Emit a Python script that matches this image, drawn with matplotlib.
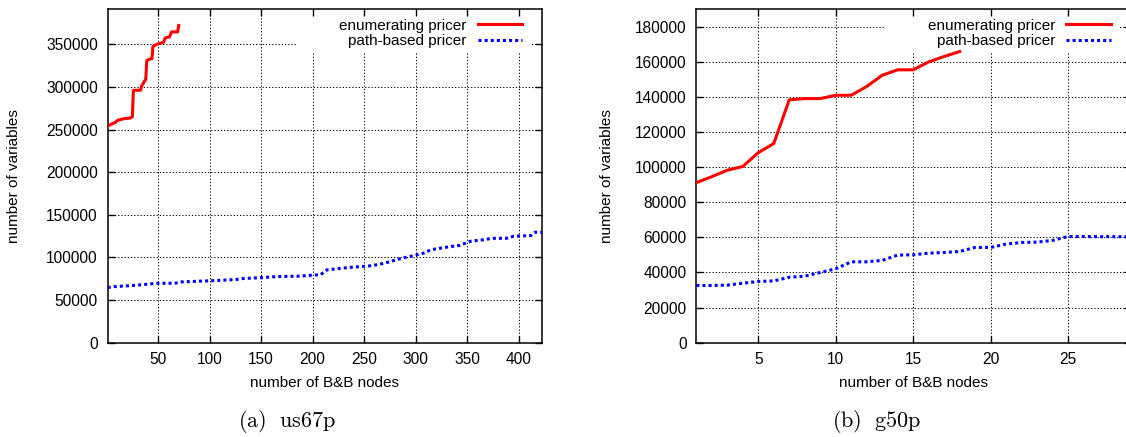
import matplotlib
matplotlib.use("Agg")
import matplotlib.pyplot as plt
from matplotlib.patches import Rectangle
from matplotlib.ticker import MultipleLocator, FormatStrFormatter

plt.rcParams['font.family'] = ['Liberation Sans', 'DejaVu Sans']
plt.rcParams['mathtext.fontset'] = 'cm'

# Data: (a) us67p
us_enum_x = [1, 4, 8, 11, 16, 23, 25, 26, 33, 34, 36, 38, 39, 43, 44, 45, 49, 55, 57, 61, 63, 69, 70]
us_enum_y = [254000, 256000, 258000, 261000, 262500, 263500, 265000, 296000, 296000, 301000, 305000,
             309000, 331000, 333000, 333000, 347500, 350000, 352000, 357500, 358500, 364500, 364500, 372000]
us_path_x = [1, 7, 28, 49, 66, 73, 97, 111, 125, 132, 152, 166, 187, 208, 214, 235, 257, 270, 287,
             298, 308, 315, 329, 343, 353, 367, 374, 388, 395, 412, 416, 423]
us_path_y = [64600, 65700, 67300, 69700, 69700, 71300, 72400, 73200, 74000, 75200, 76400, 77600, 78000,
             79900, 85400, 88200, 90200, 93300, 99200, 102000, 105100, 109000, 111800, 114200, 118900,
             120900, 122400, 122400, 124800, 125600, 129500, 129500]

# Data: (b) g50p
g50_enum_x = list(range(1, 19))
g50_enum_y = [91200, 94600, 98300, 100400, 108300, 113500, 138400, 139100, 139100, 141000, 141000,
              146000, 152400, 155500, 155500, 160000, 163100, 165900]
g50_path_x = list(range(1, 30))
g50_path_y = [32600, 32600, 32800, 33900, 34900, 35200, 37300, 37900, 40000, 42100, 46100, 46100,
              46900, 49900, 50100, 51000, 51400, 52000, 54300, 54300, 56200, 57100, 57300, 58300,
              60500, 60500, 60400, 60400, 60400]

fig = plt.figure(figsize=(11.26, 4.37), dpi=100)

panels = [
    dict(rect=[0.0956, 0.2158, 0.386, 0.763], xlim=(1, 423), ylim=(0, 391000), xstep=50, ystep=50000,
         data=(us_enum_x, us_enum_y, us_path_x, us_path_y), cap=r'$\mathrm{(a)\ \ us67p}$', capx=287,
         xlab_x=325, ylab_x=14.5),
    dict(rect=[0.6184, 0.2158, 0.386, 0.763], xlim=(1, 29.06), ylim=(0, 190000), xstep=5, ystep=20000,
         data=(g50_enum_x, g50_enum_y, g50_path_x, g50_path_y), cap=r'$\mathrm{(b)\ \ g50p}$', capx=877,
         xlab_x=913.8, ylab_x=607),
]

for p in panels:
    ax = fig.add_axes(p['rect'])
    ex, ey, px, py = p['data']
    ax.plot(ex, ey, color='#ff0000', lw=2.2, label='enumerating pricer', zorder=3)
    ax.plot(px, py, color='#0000ff', lw=2.2, ls=(0, (1, 1)), label='path-based pricer', zorder=3)
    ax.set_xlim(*p['xlim'])
    ax.set_ylim(*p['ylim'])
    ax.xaxis.set_major_locator(MultipleLocator(p['xstep']))
    ax.yaxis.set_major_locator(MultipleLocator(p['ystep']))
    ax.xaxis.set_major_formatter(FormatStrFormatter('%d'))
    ax.yaxis.set_major_formatter(FormatStrFormatter('%d'))
    ax.tick_params(direction='in', length=5, width=1, top=True, right=True, labelsize=11.2,
                   colors='black', pad=7)
    for s in ax.spines.values():
        s.set_linewidth(1.1)

    # dotted grid, drawn below the white key box
    for v in ax.get_xticks():
        if p['xlim'][0] < v < p['xlim'][1]:
            ax.axvline(v, color='black', lw=0.7, ls=(0, (1.3, 2)), zorder=0.8)
    for v in ax.get_yticks():
        if p['ylim'][0] < v < p['ylim'][1]:
            ax.axhline(v, color='black', lw=0.7, ls=(0, (1.3, 2)), zorder=0.8)
    ax.add_patch(Rectangle((0.433, 0.872), 0.541, 0.128, transform=ax.transAxes,
                           facecolor='white', edgecolor='none', zorder=0.9))

    ax.legend(loc='upper right', bbox_to_anchor=(0.953, 0.972), markerfirst=False, frameon=False,
              handlelength=2.9, handletextpad=0.7, borderpad=0, borderaxespad=0,
              labelspacing=0.1, fontsize=11)

    fig.text(p['xlab_x'] / 1126, 1 - 382.7 / 437, 'number of B&B nodes',
             ha='center', va='center', fontsize=11)
    fig.text(p['ylab_x'] / 1126, 1 - 176 / 437, 'number of variables', rotation=90,
             ha='center', va='center', fontsize=11)
    fig.text(p['capx'] / 1126, 1 - 421.5 / 437, p['cap'], ha='center', va='center', fontsize=16)

fig.savefig('out.png', dpi=100)
